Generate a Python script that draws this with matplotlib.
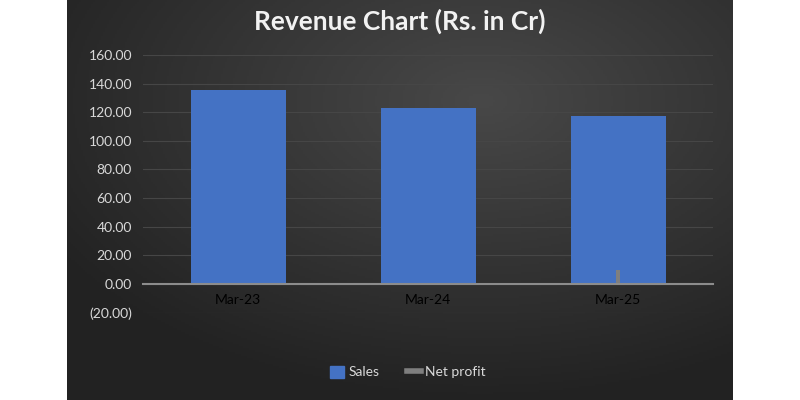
import numpy as np
import matplotlib
matplotlib.use("Agg")
import matplotlib.pyplot as plt
from matplotlib.patches import Rectangle
from matplotlib.lines import Line2D

categories = ["Mar-23", "Mar-24", "Mar-25"]
sales = [135.5, 123.0, 117.5]
net_profit = [0.4, 0.3, 9.5]
yticks = [-20, 0, 20, 40, 60, 80, 100, 120, 140, 160]

def fmt(v):
    return f"({abs(v):.2f})" if v < 0 else f"{v:.2f}"

plt.rcParams['font.family'] = ['Lato', 'DejaVu Sans']

fig = plt.figure(figsize=(8, 4), dpi=100)
fig.patch.set_facecolor("white")

# dark panel with radial gradient
px0, px1 = 67 / 800, 733 / 800
bg = fig.add_axes([px0, 0, px1 - px0, 1], zorder=0)
h, w = 200, 333
yy, xx = np.mgrid[0:h, 0:w]
cx, cy = 0.62 * w, 0.25 * h
r = np.sqrt(((xx - cx) / w) ** 2 + ((yy - cy) / h) ** 2)
r = np.clip(r / 0.75, 0, 1)
c_in = np.array([0x48, 0x48, 0x48]) / 255
c_out = np.array([0x22, 0x22, 0x22]) / 255
img = c_in[None, None, :] * (1 - r[..., None]) + c_out[None, None, :] * r[..., None]
bg.imshow(img, aspect="auto", extent=[0, 1, 0, 1], origin="upper")
bg.set_axis_off()

ax = fig.add_axes([143 / 800, 1 - 312.6 / 400, (713 - 143) / 800, (312.6 - 55) / 400], zorder=1)
ax.patch.set_alpha(0)
x = np.arange(len(categories))
ax.bar(x, sales, width=0.5, color="#4472C4", zorder=3)
ax.bar(x, net_profit, width=0.022, color="#7f7f7f", zorder=4)

ax.set_xlim(-0.5, 2.5)
ax.set_ylim(-20, 160)
ax.set_yticks(yticks)
ax.set_yticklabels([fmt(v) for v in yticks], color="#d9d9d9", fontsize=10)
ax.yaxis.grid(True, color="#464646", linewidth=0.8, zorder=0)
ax.set_axisbelow(True)
ax.tick_params(axis="y", length=0, pad=8)
ax.set_xticks(x)
ax.set_xticklabels(categories, color="#d9d9d9", fontsize=10)
ax.tick_params(axis="x", length=0, pad=7)
for s in ["top", "right", "left"]:
    ax.spines[s].set_visible(False)
ax.spines["bottom"].set_position(("data", 0))
ax.spines["bottom"].set_color("#8c8c8c")
ax.spines["bottom"].set_linewidth(1.5)
ax.spines["bottom"].set_zorder(5)

fig.text(0.5, 1 - 21 / 400, "Revenue Chart (Rs. in Cr)", ha="center", va="center",
         fontsize=19, fontweight="bold", color="#f2f2f2")

handles = [Rectangle((0, 0), 1, 1, color="#4472C4"),
           Line2D([0], [0], color="#7f7f7f", linewidth=4)]
leg = fig.legend(handles, ["Sales", "Net profit"], loc="center",
                 bbox_to_anchor=(0.51, 1 - 372 / 400), ncol=2, frameon=False,
                 fontsize=10, handlelength=1.0, handleheight=1.0, columnspacing=2.0,
                 handletextpad=0.3)
for t in leg.get_texts():
    t.set_color("#d9d9d9")

fig.savefig("out.png", dpi=100, facecolor=fig.get_facecolor())
